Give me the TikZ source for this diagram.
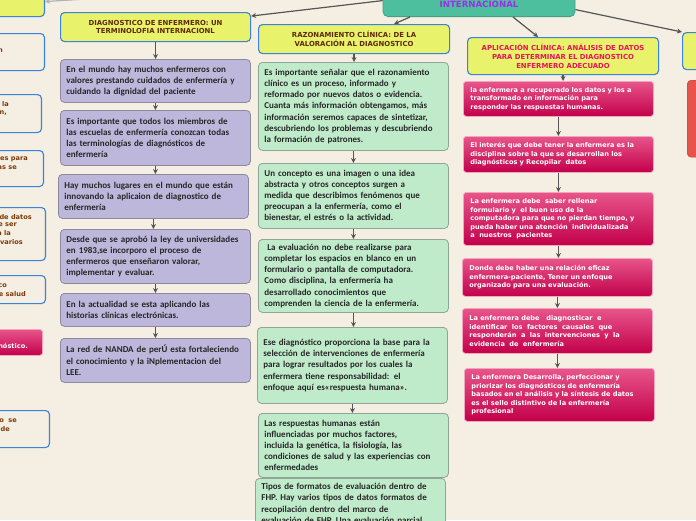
\documentclass[tikz,border=0pt]{standalone}
\usepackage{fontspec}
\setmainfont{Carlito}
\newfontfamily\verdana{DejaVu Sans}
\usetikzlibrary{arrows.meta}

\definecolor{fondo}{HTML}{F4EEE3}
\definecolor{amarillo}{HTML}{E8F26A}
\definecolor{azulborde}{HTML}{3B82DB}
\definecolor{cafe}{HTML}{5E2A0A}
\definecolor{lilafill}{HTML}{BDB7DB}
\definecolor{lilaline}{HTML}{8E8A9E}
\definecolor{verdefill}{HTML}{C0EBCB}
\definecolor{verdeline}{HTML}{8FA595}
\definecolor{rosatop}{HTML}{E8558A}
\definecolor{rosabot}{HTML}{C2004A}
\definecolor{rosaline}{HTML}{F3A5BE}
\definecolor{fucsia}{HTML}{E8135A}
\definecolor{teal}{HTML}{4DBF9E}
\definecolor{morado}{HTML}{9B2FE8}
\definecolor{rojo}{HTML}{E8534A}
\definecolor{flechagris}{HTML}{555555}

\tikzset{
  hdr/.style={draw=azulborde, fill=amarillo, line width=1.1pt, rounded corners=4pt,
    anchor=north west, minimum width=190pt, align=center, inner sep=1pt,
    text=cafe, font=\verdana\bfseries\fontsize{6.9}{8.8}\selectfont},
  lila/.style={draw=lilaline, fill=lilafill, line width=0.8pt, rounded corners=4pt,
    anchor=north west, text width=178pt, inner xsep=6pt, align=left,
    text=black!85, font=\bfseries\fontsize{9}{11.2}\selectfont},
  verde/.style={lila, draw=verdeline, fill=verdefill},
  rosa/.style={draw=rosaline, top color=rosatop, bottom color=rosabot, line width=0.8pt,
    rounded corners=3pt, anchor=north west, text width=176pt, inner xsep=7pt, align=left,
    text=white, font=\verdana\bfseries\fontsize{6.6}{8.6}\selectfont},
  orilla/.style={draw=azulborde, fill=fondo, line width=1.1pt, rounded corners=4pt,
    anchor=north east, minimum width=150pt},
  frag/.style={anchor=east, inner sep=0pt, text=cafe!80!orange,
    font=\verdana\bfseries\fontsize{6.6}{8}\selectfont},
  flecha/.style={->, draw=flechagris, line width=1.2pt}
}

\begin{document}
\begin{tikzpicture}[x=1pt, y=-1pt, >={Stealth[length=5pt,width=5pt]}]
  \useasboundingbox (0,0) rectangle (696,520);
  \clip (0,0) rectangle (696,520);
  \fill[fondo] (0,0) rectangle (696,520);

  % 1. nodo central (cortado arriba)
  \node[draw=teal!85!black, fill=teal, rounded corners=5pt, line width=0.8pt, anchor=south,
    minimum width=192pt, minimum height=24pt, text=morado,
    font=\verdana\bfseries\fontsize{8.6}{10}\selectfont] (central) at (479,17) {INTERNACIONAL};

  % 2. cajas cortadas en los bordes
  \node[orilla, fill=amarillo, minimum height=30pt] (b1) at (45,-14) {};
  \node[orilla, minimum height=37pt] (b2) at (45,33) {};
  \node[orilla, minimum height=38pt] (b3) at (42,94) {};
  \node[orilla, minimum height=36pt] (b4) at (44,150) {};
  \node[orilla, minimum height=53pt] (b5) at (46,207) {};
  \node[orilla, minimum height=28pt] (b6) at (46,275) {};
  \node[orilla, draw=rosaline, top color=rosatop, bottom color=rosabot, line width=0.8pt,
    rounded corners=3pt, minimum height=26pt] (b7) at (43,329) {};
  \node[orilla, minimum height=37pt] (b8) at (50,410) {};
  \node[frag] at (3,51) {n};
  \node[frag] at (9,104) {la};
  \node[frag] at (7,113) {n,};
  \node[frag] at (28,159) {es para};
  \node[frag] at (17,168) {as se};
  \node[frag] at (32,217) {de datos};
  \node[frag] at (17,225) {e ser};
  \node[frag] at (11,233) {a la};
  \node[frag] at (23,242) {varios};
  \node[frag] at (7,286) {co};
  \node[frag] at (26,294) {e salud};
  \node[frag, text=white] at (28,346) {nóstico.};
  \node[frag] at (17,421) {o\ \ se};
  \node[frag] at (10,429) {de};
  \node[draw=azulborde, fill=amarillo, line width=1.1pt, rounded corners=4pt, anchor=north west,
    minimum width=60pt, minimum height=37pt] (ryel) at (682,32) {};
  \node[draw=rojo!80!black, fill=rojo, rounded corners=4pt, anchor=north west,
    minimum width=60pt, minimum height=77pt] (rred) at (687,80) {};

  % 3. columna: diagnostico de enfermero
  \node[hdr, minimum height=29pt] (hdiag) at (60,12)
    {DIAGNOSTICO DE ENFERMERO: UN\\TERMINOLOFIA INTERNACIONL};
  \node[lila, minimum height=43pt] (p1) at (60,59)
    {En el mundo hay muchos enfermeros con\\valores prestando cuidados de enfermería y\\cuidando la dignidad del paciente};
  \node[lila, minimum height=55pt] (p2) at (60,110)
    {Es importante que todos los miembros de\\las escuelas de enfermería conozcan todas\\las terminologías de diagnósticos de\\enfermería};
  \node[lila, minimum height=44pt] (p3) at (58,174)
    {Hay muchos lugares en el mundo que están\\innovando la aplicaion de diagnostico de\\enfermería};
  \node[lila, minimum height=54pt] (p4) at (60,229)
    {Desde que se aprobó la ley de universidades\\en 1983,se incorporo el proceso de\\enfermeros que enseñaron valorar,\\implementar y evaluar.};
  \node[lila, minimum height=33pt] (p5) at (60,293)
    {En la actualidad se esta aplicando las\\historias clínicas electrónicas.};
  \node[lila, minimum height=44pt] (p6) at (60,338)
    {La red de NANDA de perÚ esta fortaleciendo\\el conocimiento y la iNplementacion del\\LEE.};

  % 4. columna: razonamiento clinico
  \node[hdr, minimum width=191pt, minimum height=29pt] (hraz) at (258,24)
    {RAZONAMIENTO CLÍNICA: DE LA\\VALORACIÓN AL DIAGNOSTICO};
  \node[verde, minimum height=88pt] (g1) at (258,62)
    {Es importante señalar que el razonamiento\\clínico es un proceso, informado y\\reformado por nuevos datos o evidencia.\\Cuanta más información obtengamos, más\\información seremos capaces de sintetizar,\\descubriendo los problemas y descubriendo\\la formación de patrones.};
  \node[verde, minimum height=65pt] (g2) at (258,163)
    {Un concepto es una imagen o una idea\\abstracta y otros conceptos surgen a\\medida que describimos fenómenos que\\preocupan a la enfermería, como el\\bienestar, el estrés o la actividad.};
  \node[verde, minimum height=73pt] (g3) at (258,239)
    {\ La evaluación no debe realizarse para\\completar los espacios en blanco en un\\formulario o pantalla de computadora.\\Como disciplina, la enfermería ha\\desarrollado conocimientos que\\comprenden la ciencia de la enfermería.};
  \node[verde, minimum height=76pt] (g4) at (257,327)
    {Ese diagnóstico proporciona la base para la\\selección de intervenciones de enfermería\\para lograr resultados por los cuales la\\enfermera tiene responsabilidad: el\\enfoque aquí es«respuesta humana».\\[6pt]};
  \node[verde, minimum height=64pt] (g5) at (258,413)
    {Las respuestas humanas están\\influenciadas por muchos factores,\\incluida la genética, la fisiología, las\\condiciones de salud y las experiencias con\\enfermedades};
  \node[verde, inner ysep=5pt] (g6) at (255,478)
    {Tipos de formatos de evaluación dentro de\\FHP. Hay varios tipos de datos formatos de\\recopilación dentro del marco de\\evaluación de FHP. Una evaluación parcial};

  % 5. columna: aplicacion clinica
  \node[hdr, minimum width=191pt, minimum height=37pt, text=fucsia] (hapl) at (467,37)
    {APLICACIÓN CLÍNICA: ANÁLISIS DE DATOS\\PARA DETERMINAR EL DIAGNOSTICO\\ENFERMERO ADECUADO};
  \node[rosa, minimum height=35pt] (r1) at (463,81)
    {la enfermera a recuperado los datos y los a\\transformado en información para\\responder las respuestas humanas.};
  \node[rosa, minimum height=36pt] (r2) at (463,136)
    {El interés que debe tener la enfermera es la\\disciplina sobre la que se desarrollan los\\diagnósticos y Recopilar\ \ datos};
  \node[rosa, minimum height=53pt] (r3) at (463,192)
    {La enfermera debe\ \ saber rellenar\\formulario y\ \ el buen uso de la\\computadora para que no pierdan tiempo, y\\pueda haber una atención\ \ individualizada\\a\ \ nuestros\ \ pacientes};
  \node[rosa, minimum height=38pt] (r4) at (462,258)
    {Donde debe haber una relación eficaz\\enfermera-paciente, Tener un enfoque\\organizado para una evaluación.};
  \node[rosa, minimum height=45pt] (r5) at (462,308)
    {La enfermera debe\ \ \ diagnosticar\ \ e\\identificar\ \ los\ \ factores\ \ causales\ \ que\\responderán\ \ a\ \ las\ \ intervenciones\ \ y\ \ la\\evidencia\ \ de\ \ enfermería};
  \node[rosa, minimum height=53pt] (r6) at (464,368)
    {La enfermera Desarrolla, perfeccionar y\\priorizar los diagnósticos de enfermería\\basados en el análisis y la síntesis de datos\\es el sello distintivo de la enfermería\\profesional};

  % 6. conectores
  \coordinate (cola) at (118,-3);
  \draw[flecha, draw=gray!60] (cola) -- (b1.east);
  \draw[flecha] ([yshift=4pt]central.west) -- ([yshift=11pt]hdiag.east);
  \draw[flecha] ([xshift=-69pt]central.south) -- ([xshift=40pt]hraz.north);
  \draw[flecha] ([xshift=34pt]central.south) -- ([xshift=-25pt]hapl.north);
  \draw[flecha] ([yshift=-5pt]central.east) -- (ryel.north west);
  \foreach \a/\b in {hdiag/p1, p1/p2, p2/p3, p3/p4, p4/p5, p5/p6,
                     hraz/g1, g1/g2, g2/g3, g3/g4, g4/g5,
                     hapl/r1, r1/r2, r2/r3, r3/r4, r4/r5, r5/r6}
    \draw[flecha] (\a.south) -- (\a.south |- \b.north);
\end{tikzpicture}
\end{document}
